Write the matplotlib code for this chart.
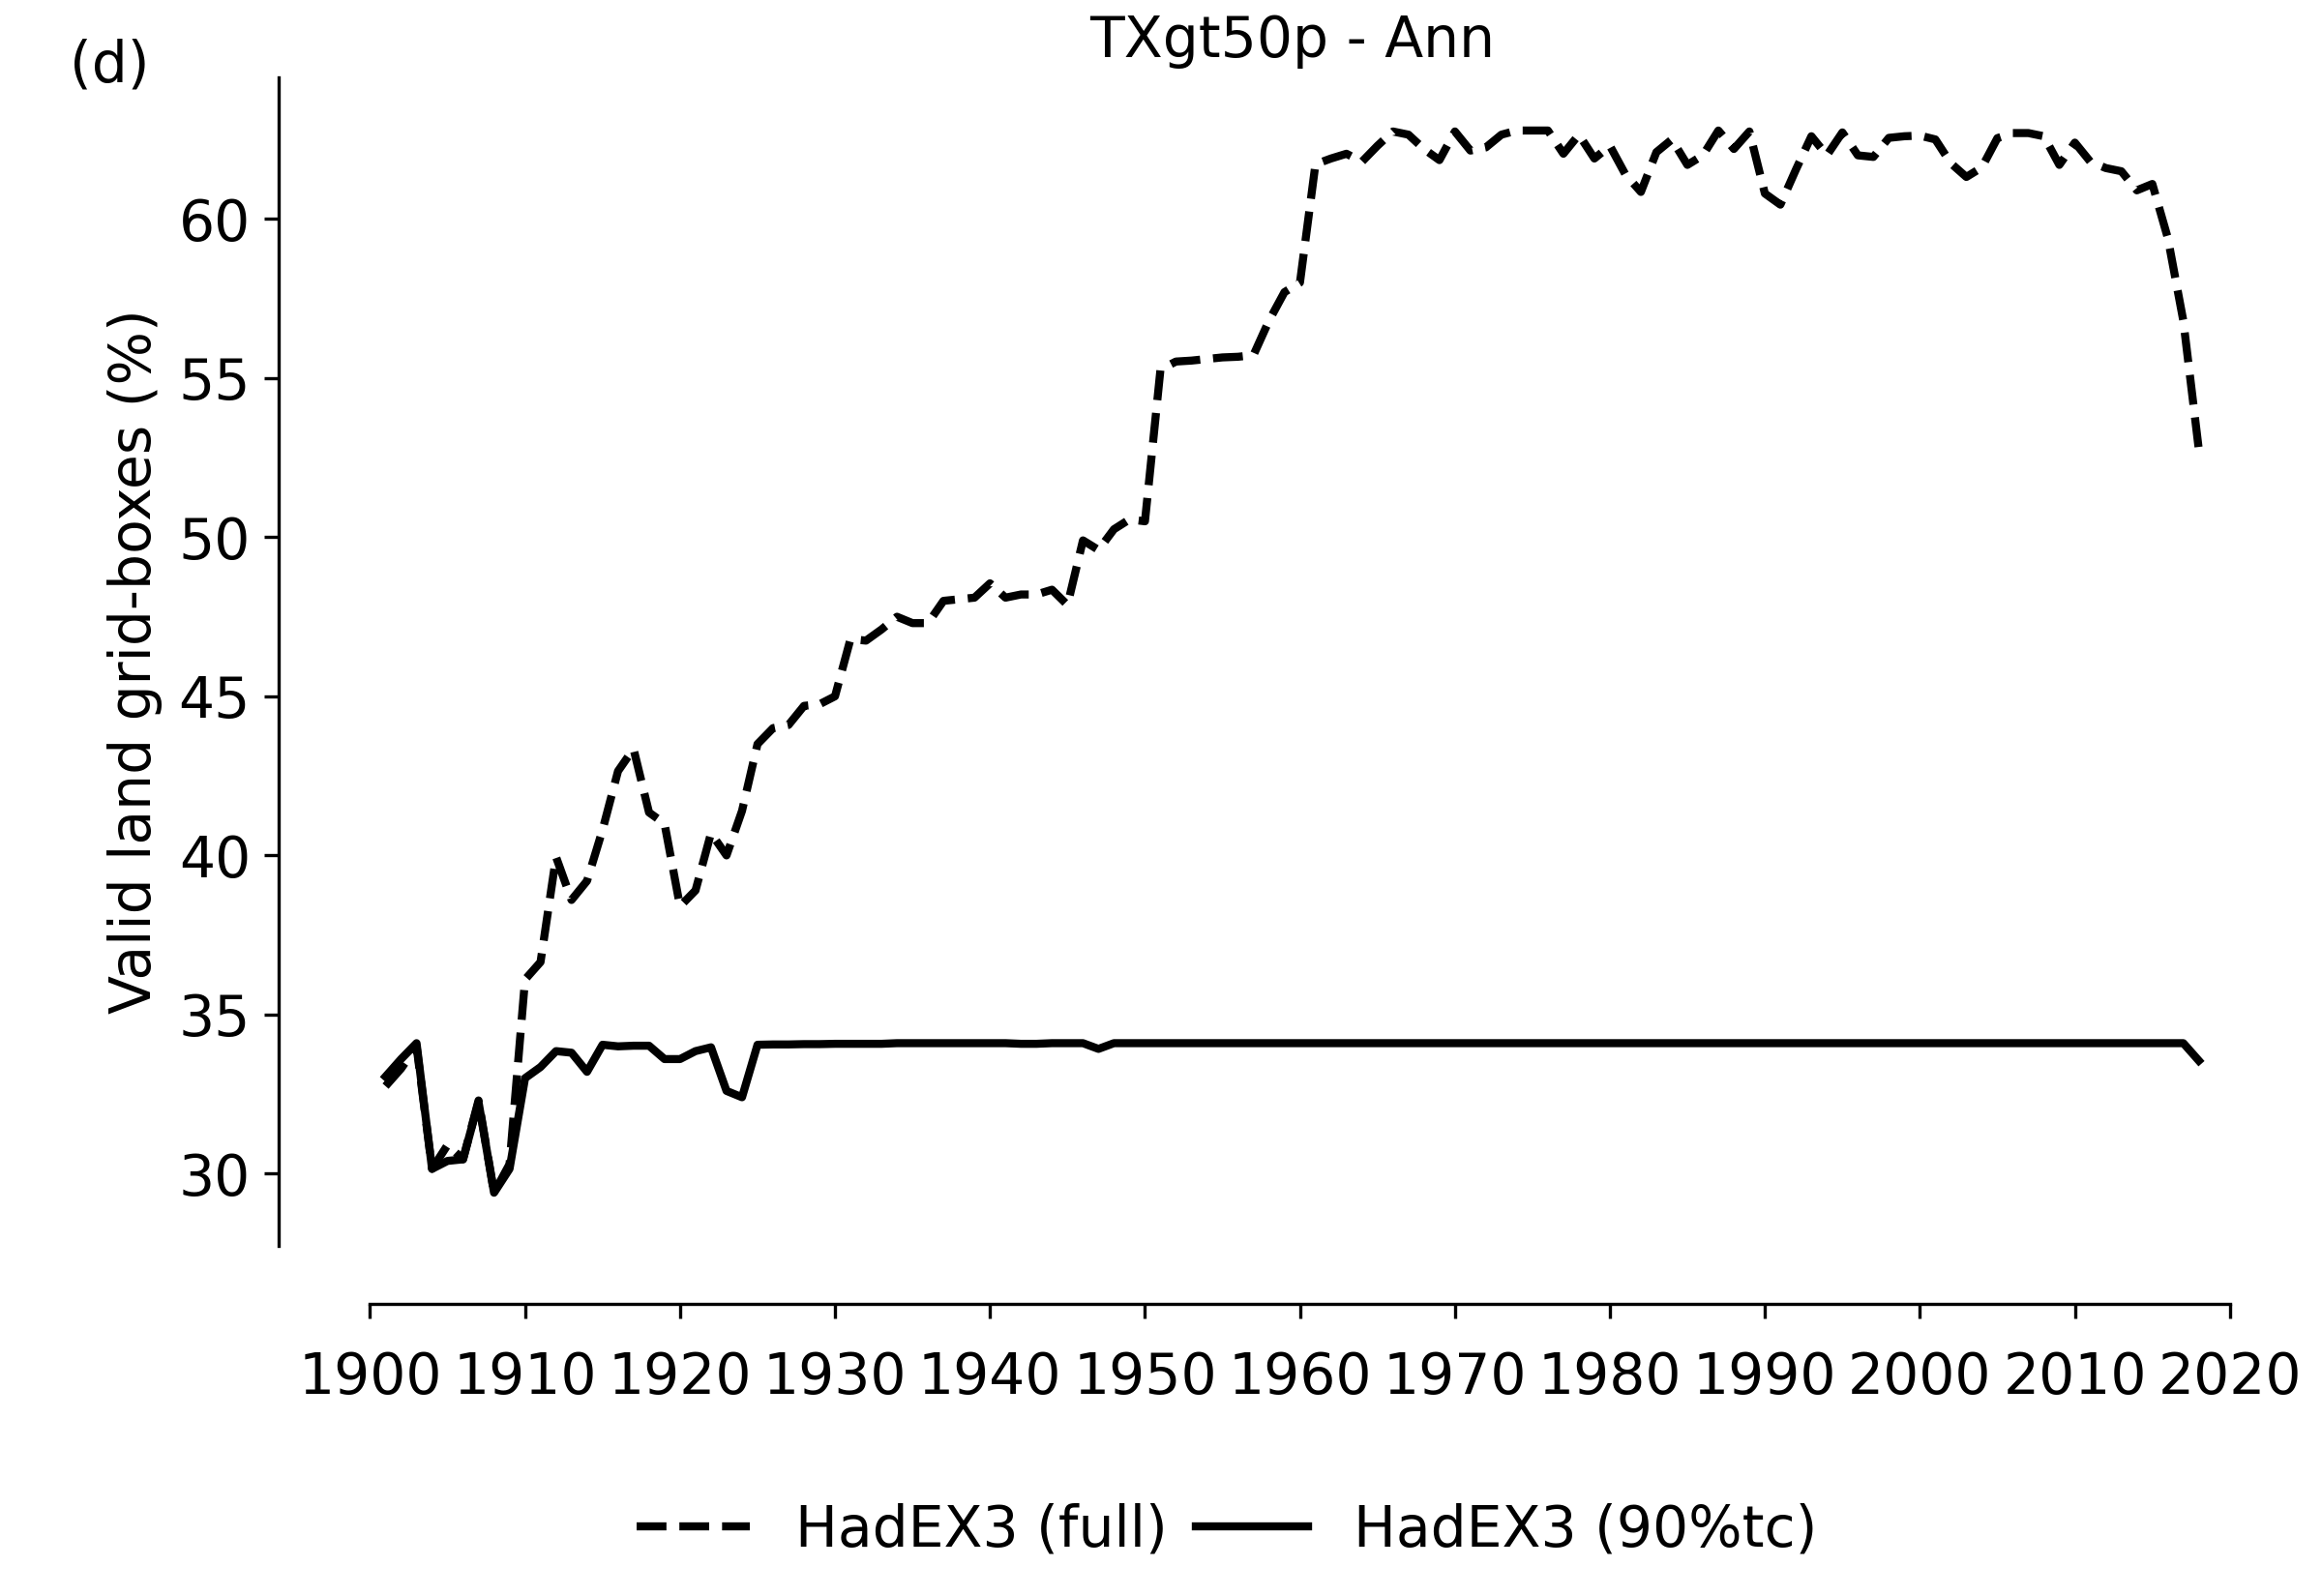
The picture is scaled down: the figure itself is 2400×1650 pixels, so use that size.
import numpy as np
import matplotlib
matplotlib.use("Agg")
import matplotlib.pyplot as plt

# annual values, 1901-2018
years = np.arange(1901, 2019)

full = [32.75, 33.3, 34.0, 30.15, 30.9, 30.45, 32.3, 29.4, 30.3, 36.1,
        36.65, 39.95, 38.6, 39.2, 40.8, 42.65, 43.35, 41.35, 41.0, 38.4,
        38.9, 40.7, 40.0, 41.4, 43.5, 44.0, 44.1, 44.7, 44.75, 45.0,
        46.8, 46.75, 47.1, 47.5, 47.3, 47.3, 48.0, 48.05, 48.1, 48.55,
        48.1, 48.2, 48.2, 48.35, 47.87, 49.9, 49.6, 50.25, 50.56, 50.5,
        55.27, 55.52, 55.55, 55.6, 55.65, 55.67, 55.72, 56.8, 57.7, 58.0,
        61.72, 61.9, 62.05, 61.8, 62.3, 62.75, 62.65, 62.2, 61.85, 62.75,
        62.15, 62.25, 62.65, 62.78, 62.78, 62.78, 62.05, 62.65, 61.9, 62.3,
        61.4, 60.85, 62.1, 62.5, 61.7, 62.0, 62.78, 62.2, 62.75, 60.8,
        60.45, 61.55, 62.6, 62.0, 62.72, 62.0, 61.95, 62.55, 62.6, 62.62,
        62.5, 61.75, 61.32, 61.62, 62.54, 62.7, 62.7, 62.6, 61.7, 62.4,
        61.8, 61.6, 61.5, 60.9, 61.1, 59.4, 56.8, 52.75]

tc90 = [33.05, 33.6, 34.1, 30.15, 30.4, 30.45, 32.25, 29.4, 30.15, 33.0,
        33.35, 33.85, 33.8, 33.2, 34.05, 34.0, 34.02, 34.02, 33.6, 33.6,
        33.85, 33.97, 32.6, 32.4, 34.05, 34.06, 34.06, 34.07, 34.07, 34.08,
        34.08, 34.08, 34.08, 34.1, 34.1, 34.1, 34.1, 34.1, 34.1, 34.1,
        34.1, 34.08, 34.08, 34.1, 34.1, 34.1, 33.92, 34.1, 34.1, 34.1,
        34.1, 34.1, 34.1, 34.1, 34.1, 34.1, 34.1, 34.1, 34.1, 34.1,
        34.1, 34.1, 34.1, 34.1, 34.1, 34.1, 34.1, 34.1, 34.1, 34.1,
        34.1, 34.1, 34.1, 34.1, 34.1, 34.1, 34.1, 34.1, 34.1, 34.1,
        34.1, 34.1, 34.1, 34.1, 34.1, 34.1, 34.1, 34.1, 34.1, 34.1,
        34.1, 34.1, 34.1, 34.1, 34.1, 34.1, 34.1, 34.1, 34.1, 34.1,
        34.1, 34.1, 34.1, 34.1, 34.1, 34.1, 34.1, 34.1, 34.1, 34.1,
        34.1, 34.1, 34.1, 34.1, 34.1, 34.1, 34.1, 33.55]

xticks = list(range(1900, 2021, 10))
yticks = [30, 35, 40, 45, 50, 55, 60]

fs = 14

fig = plt.figure(figsize=(8, 5.5), dpi=300)
ax = fig.add_axes([0.127, 0.2194, 0.859, 0.7321])

ax.plot(years, full, color="k", ls="--", lw=2, label="HadEX3 (full)")
ax.plot(years, tc90, color="k", ls="-", lw=2, label="HadEX3 (90%tc)")

ax.set_xticks(xticks)
ax.set_yticks(yticks)
ax.tick_params(labelsize=fs)
ax.tick_params(axis="x", pad=8)

ax.spines["top"].set_visible(False)
ax.spines["right"].set_visible(False)
ax.spines["left"].set_position(("outward", 4))
ax.spines["bottom"].set_position(("outward", 14.4))
ax.spines["bottom"].set_bounds(1900, 2020)

ax.set_ylabel("Valid land grid-boxes (%)", fontsize=fs)
ax.set_title("TXgt50p - Ann", fontsize=fs, pad=5)
fig.text(0.047, 0.959, "(d)", ha="center", va="center", fontsize=fs)

fig.legend(loc="center", bbox_to_anchor=(0.5285, 0.041), ncol=2, frameon=False,
           fontsize=fs, columnspacing=0.5)

fig.savefig("out.png", dpi=300)
